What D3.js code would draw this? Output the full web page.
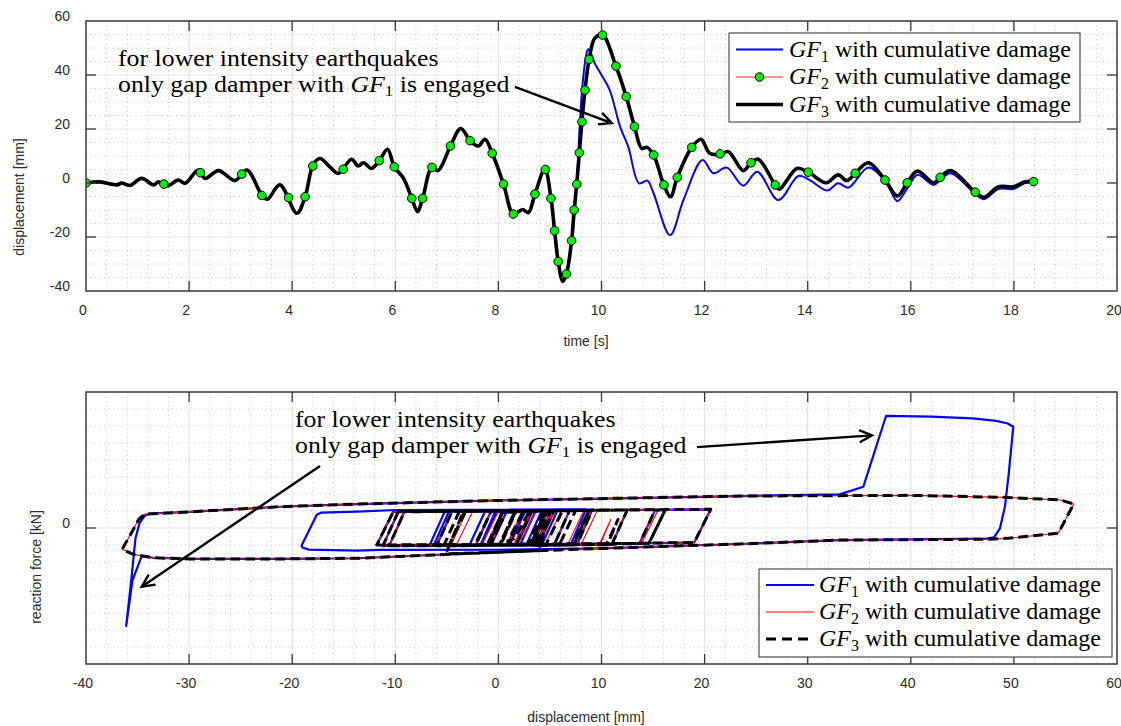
<!DOCTYPE html>
<html>
<head>
<meta charset="utf-8">
<script src="https://cdn.jsdelivr.net/npm/d3@7"></script>
<style>
  body { margin: 0; background: #fff; }
  svg { display: block; }
  .sans { font-family: "Liberation Sans", Arial, Helvetica, sans-serif; }
  .serif { font-family: "Liberation Serif", "Times New Roman", serif; }
</style>
</head>
<body>
<svg id="chart" width="1121" height="726"></svg>
<script>
// ---------------- axis ticks ----------------
const timeTicks = [0, 2, 4, 6, 8, 10, 12, 14, 16, 18, 20];
const dispTicks = [-40, -20, 0, 20, 40, 60];
const hystDispTicks = [-40, -30, -20, -10, 0, 10, 20, 30, 40, 50, 60];
const forceTicks = [0];

const seriesNames = ["GF", "GF", "GF"];
const seriesSubs = ["1", "2", "3"];
const seriesSuffix = " with cumulative damage";
const noteLine1 = "for lower intensity earthquakes";
const noteLine2a = "only gap damper with ";
const noteLine2b = " is engaged";

// ---------------- displacement time histories [t (s), u (mm)] ----------------
const gf3Series = [
  [0,0],[0.27,0.4],[0.6,-0.7],[0.69,0],[0.85,-0.9],[1.08,1.7],[1.31,-0.7],[1.40,0.4],
  [1.58,-1.1],[1.79,1.1],[1.92,-0.1],[2.18,4.8],[2.31,1.7],[2.57,4.6],[2.89,0.9],[3.12,4.8],
  [3.41,-4.4],[3.52,-6],[3.76,-0.7],[4.09,-11.2],[4.25,-5.1],[4.41,7],[4.54,9.1],[4.73,6],
  [4.9,3.6],[5.15,8.8],[5.28,6.3],[5.38,7.5],[5.54,5.4],[5.69,8.3],[5.85,12.5],[5.98,6],
  [6.16,1.7],[6.32,-5.7],[6.43,-10.6],[6.53,-5.7],[6.71,5.8],[6.83,4.6],[7.07,13.7],[7.27,20.2],
  [7.45,15.7],[7.61,13.7],[7.74,16.2],[7.88,11],[8.10,-0.4],[8.29,-11.5],[8.47,-9.8],[8.58,-11],
  [8.71,-4.1],[8.9,5.1],[9.02,-5.7],[9.09,-17.7],[9.16,-29.1],[9.25,-36.5],[9.32,-33.7],[9.42,-21.4],
  [9.47,-10],[9.52,-0.4],[9.57,11.2],[9.62,22.7],[9.68,34.4],[9.76,45.8],[9.87,53.6],[10.02,54.8],
  [10.28,43.3],[10.48,32],[10.64,20.9],[10.78,12.8],[10.88,13.2],[11.01,10.4],[11.21,-0.7],[11.34,-5.1],
  [11.47,2.1],[11.75,13.2],[11.93,16.2],[12.10,11],[12.30,10.6],[12.46,11.6],[12.75,4.6],[12.90,7.5],
  [13.04,8.8],[13.37,-0.7],[13.45,-2.3],[13.79,5.4],[14.01,4],[14.36,0.1],[14.59,3],[14.76,0.9],
  [14.92,3.6],[15.18,7.5],[15.50,1.1],[15.74,-4.8],[15.93,0.1],[16.13,4.4],[16.44,0.1],[16.57,2.1],
  [16.77,4.6],[17.25,-3.4],[17.42,-5.3],[17.70,-1.4],[17.99,-1.4],[18.22,0.5],[18.38,0.5]
];

// GF1 follows GF3 until the first large trough, then departs
const gf1Start = gf3Series.filter(p => p[0] <= 9.25);
const gf1Tail = [
  [9.33,-32.5],[9.43,-20],[9.52,0],[9.58,22],[9.64,38],[9.70,47],[9.74,49.5],[9.80,47.8],
  [9.87,44.3],[10.0,40],[10.16,34.4],[10.36,20.9],[10.52,13.4],[10.73,-0.1],[10.89,0.9],[11.01,-3.8],
  [11.33,-19.3],[11.59,-6.3],[11.96,8.5],[12.17,3.6],[12.43,5.7],[12.75,-1],[13.02,4.2],[13.43,-6.3],
  [13.82,2.6],[14.04,1.1],[14.38,-2.8],[14.59,-0.1],[14.79,-1.7],[15.18,5.7],[15.53,-0.1],[15.74,-6.7],
  [15.95,-1.4],[16.13,3],[16.44,-0.7],[16.57,1],[16.77,3.6],[17.25,-4],[17.42,-6],[17.70,-2.2],
  [17.99,-2.2],[18.22,0],[18.38,0.1]
];
const gf1Series = gf1Start.concat(gf1Tail);

// GF2 coincides with GF3 in the time history; markers placed along it
const gf2Series = gf3Series;
const gf2Markers = [
  [0,0],[1.51,-0.4],[2.22,3.8],[3.02,3.3],[3.41,-4.6],[3.93,-5.4],[4.25,-5.1],[4.40,6.3],
  [4.99,5.1],[5.69,8.3],[5.98,6],[6.32,-5.7],[6.53,-5.7],[6.71,5.8],[7.07,13.7],[7.45,15.7],
  [7.88,11],[8.10,-0.4],[8.29,-11.5],[8.71,-4.1],[8.91,5.0],[9.02,-5.7],[9.09,-17.7],[9.16,-29.1],
  [9.32,-33.7],[9.42,-21.4],[9.47,-10],[9.52,-0.4],[9.57,11.2],[9.62,22.7],[9.68,34.4],[9.76,45.8],
  [10.02,54.8],[10.28,43.3],[10.48,32],[10.64,20.9],[11.01,10.4],[11.21,-0.7],[11.47,2.1],[11.75,13.2],
  [12.30,10.8],[12.90,7.5],[13.37,-0.7],[14.01,4],[14.92,3.6],[15.50,1.1],[15.93,0.1],[16.57,2.1],
  [17.25,-3.4],[18.38,0.5]
];

// ---------------- hysteresis paths [u (mm), F (kN)] ----------------
const gf3Hyst = [
  [0,0],[0.4,0.5],[-0.7,-0.9],[0.3,0.9],[1.7,0.95],[0.2,-1.0],[-1.1,-1.0],[0.4,0.95],[4.8,1.0],
  [3.3,-1.0],[1.7,-1.0],[3.2,0.98],[4.6,1.0],[3.1,-1.0],[0.9,-1.0],[2.4,0.98],[4.8,1.0],[3.3,-1.0],
  [-6.0,-1.05],[-4.5,0.97],[-0.7,1.0],[-2.2,-1.0],[-11.2,-1.05],[-9.7,0.98],[9.1,1.05],[7.6,-1.0],
  [3.6,-1.02],[5.1,1.0],[8.8,1.05],[7.3,-1.0],[5.4,-1.0],[6.9,1.02],[12.5,1.06],[11.0,-0.98],
  [-10.6,-1.05],[-9.1,0.98],[20.6,1.1],[19.0,-0.85],[13.7,-0.9],[15.2,1.05],[16.2,1.08],[14.6,-0.9],
  [-11.8,-1.0],[-10.2,0.95],[5.1,1.02],[3.9,-1.33],[0,-1.42],[-13.7,-1.78],[-21.2,-1.82],[-29.9,-1.82],
  [-33.5,-1.75],[-35.4,-1.55],[-36.5,-1.25],[-35.6,-0.3],[-34.9,0.5],[-34.3,0.82],[-30,0.95],[-21.2,1.25],
  [-13.7,1.41],[0,1.62],[23.4,1.88],[40,1.92],[49.3,1.8],[54.5,1.65],[55.8,1.41],[54.3,-0.31],
  [49.3,-0.61],[47.35,-0.66],[33.1,-0.71],[23.4,-0.94],[10,-1.2],[0,-1.42],[-5.1,-1.52],[-3.4,0.97],
  [16.2,1.08],[14.6,-0.9],[10.6,-0.95],[11.6,0.5],[10.5,-0.95],[4.6,-1.0],[6.2,1.0],[8.8,1.05],
  [7.2,-1.0],[-2.3,-1.02],[-0.7,0.98],[5.4,1.03],[3.8,-1.0],[0.1,-1.0],[1.6,0.98],[3.0,1.0],
  [1.6,-0.6],[0.9,-0.8],[2.4,0.98],[7.5,1.04],[5.9,-1.0],[-4.8,-1.03],[-3.2,0.97],[4.4,1.02],
  [2.8,-1.0],[0.1,-1.0],[1.6,0.98],[4.6,1.02],[3.0,-1.0],[-5.3,-1.03],[-3.8,0.97],[0.5,1.0]
];

// GF2 follows the same outer loop as GF3; its late small cycles reverse at slightly different points
const gf2HystLate = [
  [15.5,1.07],[13.9,-0.9],[9.9,-0.95],[10.9,0.5],[9.8,-0.95],[3.9,-1.0],[5.5,1.0],[9.6,1.05],
  [8.0,-1.0],[-1.6,-1.02],[0.0,0.98],[6.1,1.03],[4.5,-1.0],[0.8,-1.0],[2.3,0.98],[3.7,1.0],
  [2.3,-0.6],[1.6,-0.8],[3.1,0.98],[8.3,1.04],[6.7,-1.0],[-4.1,-1.03],[-2.5,0.97],[5.2,1.02],
  [3.6,-1.0],[0.8,-1.0],[2.3,0.98],[5.4,1.02],[3.8,-1.0],[-4.6,-1.03],[-3.1,0.97],[1.2,1.0]
];
const gf2Hyst = gf3Hyst.slice(0, 74).concat(gf2HystLate);

// GF1 shares the early cycles, then the gap damper engages at both extremes
const gf1HystStart = gf3Hyst.slice(0, 45);
const gf1HystTail = [
  [3.9,-1.33],[0,-1.42],[-13.7,-1.78],[-21.2,-1.82],[-29.9,-1.82],[-33.5,-1.75],[-34.6,-1.65],
  [-35.5,-3.1],[-36.1,-5.76],[-35.6,-3.0],[-35.2,-0.6],[-34.8,0.3],[-34.3,0.72],[-33.8,0.85],[-30,0.95],
  [-21.2,1.25],[-13.7,1.41],[0,1.62],[23.4,1.88],[33.1,1.98],[35.4,2.43],[37.6,6.59],[42,6.55],
  [46,6.45],[48.3,6.3],[49.4,6.15],[49.94,5.96],[49.5,3.2],[49.13,1.25],[48.65,-0.02],[48.07,-0.55],
  [47.35,-0.62],[33.1,-0.71],[23.4,-0.94],[10,-1.2],[0,-1.28],[-11.5,-1.29],[-13.7,-1.33],[-18.4,-1.27],
  [-19.0,-1.15],[-19.1,-1.05],[-17.6,0.8],[-17.2,0.9],[-13.7,0.96],[-9.9,1.06],[8.5,1.1],[7.0,-1.0],
  [3.6,-1.0],[5.1,0.97],[5.7,1.0],[4.2,-1.0],[-1.0,-1.0],[0.5,0.97],[4.2,1.0],[2.7,-1.0],
  [-6.3,-1.05],[-4.8,0.97],[2.6,1.0],[1.1,-1.0],[-2.8,-1.0],[-1.3,0.97],[-0.1,1.0],[-1.6,-0.9],
  [-1.7,-0.95],[-0.3,0.97],[5.7,1.0],[4.2,-1.0],[-6.7,-1.05],[-5.2,0.97],[3.3,1.0],[1.8,-1.0],
  [-0.7,-1.0],[0.8,0.97],[3.6,1.0],[2.1,-1.0],[-6.0,-1.03],[-4.5,0.97],[0.1,1.0]
];
const gf1Hyst = gf1HystStart.concat(gf1HystTail);

// annotation anchors in data units
const topNoteAt = [0.62, 43.5];
const topArrow = [[8.32, 35.6], [10.2, 22.2]];
const botNoteAt = [-19.73, 5.95];
const botArrows = [
  [[19.26, 4.76], [36.24, 5.45]],
  [[-17.3, 3.65], [-34.6, -3.45]]
];

// ---------------- drawing ----------------
const svg = d3.select("#chart");
const AX = "#2b2b2b";
const GRID = "#e3e3e3";
const MINOR = "#c4c4c4";

function drawFrame(g, x, y, xTicks, yTicks, xMinor, yMinor, clipId) {
  const [x0, x1] = x.range();
  const [y0, y1] = [y.range()[1], y.range()[0]]; // top, bottom
  g.append("rect").attr("x", x0).attr("y", y0).attr("width", x1 - x0).attr("height", y1 - y0)
    .attr("fill", "#fff");
  // minor grid
  g.append("g").selectAll("line").data(xMinor).join("line")
    .attr("x1", d => x(d)).attr("x2", d => x(d)).attr("y1", y0).attr("y2", y1)
    .attr("stroke", MINOR).attr("stroke-width", 1).attr("stroke-dasharray", "1,3.5");
  g.append("g").selectAll("line").data(yMinor).join("line")
    .attr("y1", d => y(d)).attr("y2", d => y(d)).attr("x1", x0).attr("x2", x1)
    .attr("stroke", MINOR).attr("stroke-width", 1).attr("stroke-dasharray", "1,3.5");
  // major grid
  const xIn = xTicks.filter(d => x(d) > x0 + 1 && x(d) < x1 - 1);
  const yIn = yTicks.filter(d => y(d) > y0 + 1 && y(d) < y1 - 1);
  g.append("g").selectAll("line").data(xIn).join("line")
    .attr("x1", d => x(d)).attr("x2", d => x(d)).attr("y1", y0).attr("y2", y1)
    .attr("stroke", GRID).attr("stroke-width", 1.2);
  g.append("g").selectAll("line").data(yIn).join("line")
    .attr("y1", d => y(d)).attr("y2", d => y(d)).attr("x1", x0).attr("x2", x1)
    .attr("stroke", GRID).attr("stroke-width", 1.2);
  g.append("clipPath").attr("id", clipId).append("rect")
    .attr("x", x0).attr("y", y0).attr("width", x1 - x0).attr("height", y1 - y0);
}

function drawAxes(g, x, y, xTicks, yTicks) {
  const [x0, x1] = x.range();
  const [y0, y1] = [y.range()[1], y.range()[0]];
  const tl = 10;
  const xIn = xTicks.filter(d => x(d) > x0 + 1 && x(d) < x1 - 1);
  const yIn = yTicks.filter(d => y(d) > y0 + 1 && y(d) < y1 - 1);
  const tk = g.append("g").attr("stroke", "#3a3a3a").attr("stroke-width", 1.3);
  xIn.forEach(d => {
    tk.append("line").attr("x1", x(d)).attr("x2", x(d)).attr("y1", y1).attr("y2", y1 - tl);
    tk.append("line").attr("x1", x(d)).attr("x2", x(d)).attr("y1", y0).attr("y2", y0 + tl);
  });
  yIn.forEach(d => {
    tk.append("line").attr("y1", y(d)).attr("y2", y(d)).attr("x1", x0).attr("x2", x0 + tl);
    tk.append("line").attr("y1", y(d)).attr("y2", y(d)).attr("x1", x1).attr("x2", x1 - tl);
  });
  g.append("rect").attr("x", x0).attr("y", y0).attr("width", x1 - x0).attr("height", y1 - y0)
    .attr("fill", "none").attr("stroke", "#3a3a3a").attr("stroke-width", 1.5);
  // tick labels
  g.append("g").selectAll("text").data(xTicks).join("text").attr("class", "sans")
    .attr("x", d => x(d) - 3).attr("y", y1 + 24).attr("text-anchor", "middle")
    .attr("font-size", 14).attr("fill", AX).text(d => d);
  g.append("g").selectAll("text").data(yTicks).join("text").attr("class", "sans")
    .attr("x", x0 - 16).attr("y", d => y(d)).attr("dy", "0.35em").attr("transform", "translate(0,-5)")
    .attr("text-anchor", "end").attr("font-size", 14).attr("fill", AX).text(d => d);
}

function arrow(g, p, q) {
  const [ax, ay] = p, [bx, by] = q;
  const a = Math.atan2(by - ay, bx - ax);
  const L = 14, s = 0.45;
  g.append("line").attr("x1", ax).attr("y1", ay).attr("x2", bx).attr("y2", by)
    .attr("stroke", "#000").attr("stroke-width", 2.4);
  g.append("path")
    .attr("d", `M${bx - L * Math.cos(a - s)},${by - L * Math.sin(a - s)}L${bx},${by}L${bx - L * Math.cos(a + s)},${by - L * Math.sin(a + s)}`)
    .attr("fill", "none").attr("stroke", "#000").attr("stroke-width", 2.4).attr("stroke-linejoin", "miter");
}

// two-line note; each line is its own text block, slightly widened
function note(g, xPix, yPix) {
  const fs = 23.6, sx = 1.095, gap = 26.5;
  const t1 = g.append("text").attr("class", "serif").attr("font-size", fs).attr("fill", "#000")
    .attr("transform", `translate(${xPix},${yPix}) scale(${sx},1)`);
  t1.text(noteLine1);
  const t2 = g.append("text").attr("class", "serif").attr("font-size", fs).attr("fill", "#000")
    .attr("transform", `translate(${xPix},${yPix + gap}) scale(${sx},1)`);
  t2.append("tspan").text(noteLine2a);
  t2.append("tspan").attr("font-style", "italic").text("GF");
  t2.append("tspan").attr("font-size", 15.5).attr("dy", 4).text("1");
  t2.append("tspan").attr("dy", -4).text(noteLine2b);
}

function legendLabel(g, xPix, yPix, i) {
  const t = g.append("text").attr("class", "serif").attr("font-size", 24).attr("fill", "#000")
    .attr("x", xPix).attr("y", yPix);
  t.append("tspan").attr("font-style", "italic").text(seriesNames[i]);
  t.append("tspan").attr("font-size", 16).attr("dy", 5).text(seriesSubs[i]);
  t.append("tspan").attr("dy", -5).text(seriesSuffix);
}

// ======== top panel: displacement vs time ========
const xT = d3.scaleLinear().domain([0, 20]).range([86, 1117]);
const yT = d3.scaleLinear().domain([-40, 60]).range([291, 21]);
const gTop = svg.append("g");
drawFrame(gTop, xT, yT, timeTicks, dispTicks,
  d3.range(0, 20.001, 0.4).filter(v => Math.abs(v / 2 - Math.round(v / 2)) > 1e-6),
  d3.range(-40, 60.001, 5).filter(v => v % 20 !== 0), "clipTop");

const lineT = d3.line().x(d => xT(d[0])).y(d => yT(d[1])).curve(d3.curveCatmullRom.alpha(0.5));
const plotTop = gTop.append("g").attr("clip-path", "url(#clipTop)");
plotTop.append("path").datum(gf1Series).attr("d", lineT)
  .attr("fill", "none").attr("stroke", "#0000ff").attr("stroke-width", 2);
plotTop.append("path").datum(gf2Series).attr("d", lineT)
  .attr("fill", "none").attr("stroke", "#ff6f6f").attr("stroke-width", 1);
plotTop.append("path").datum(gf3Series).attr("d", lineT)
  .attr("fill", "none").attr("stroke", "#000").attr("stroke-width", 3.6)
  .attr("stroke-linejoin", "round");
plotTop.append("g").selectAll("circle").data(gf2Markers).join("circle")
  .attr("cx", d => xT(d[0])).attr("cy", d => yT(d[1])).attr("r", 4.3)
  .attr("fill", "#00ee00").attr("stroke", "#000").attr("stroke-width", 1);

drawAxes(gTop, xT, yT, timeTicks, dispTicks);
gTop.append("text").attr("class", "sans").attr("x", 586).attr("y", 346).attr("text-anchor", "middle")
  .attr("font-size", 14).attr("fill", AX).text("time [s]");
gTop.append("text").attr("class", "sans").attr("transform", "translate(24,197) rotate(-90)")
  .attr("text-anchor", "middle").attr("font-size", 14).attr("fill", AX).text("displacement [mm]");

note(gTop, xT(topNoteAt[0]), yT(topNoteAt[1]));
arrow(gTop, [xT(topArrow[0][0]), yT(topArrow[0][1])], [xT(topArrow[1][0]), yT(topArrow[1][1])]);

// top legend
const lgT = gTop.append("g");
lgT.append("rect").attr("x", 729).attr("y", 33).attr("width", 351).attr("height", 89)
  .attr("fill", "#fff").attr("stroke", AX).attr("stroke-width", 1);
const lgRowsT = [49.5, 77, 104.5];
lgT.append("line").attr("x1", 736).attr("x2", 783).attr("y1", lgRowsT[0]).attr("y2", lgRowsT[0])
  .attr("stroke", "#0000ff").attr("stroke-width", 2);
lgT.append("line").attr("x1", 736).attr("x2", 783).attr("y1", lgRowsT[1]).attr("y2", lgRowsT[1])
  .attr("stroke", "#ff6f6f").attr("stroke-width", 1.5);
lgT.append("circle").attr("cx", 759.5).attr("cy", lgRowsT[1]).attr("r", 4.3)
  .attr("fill", "#00ee00").attr("stroke", "#000").attr("stroke-width", 1);
lgT.append("line").attr("x1", 736).attr("x2", 783).attr("y1", lgRowsT[2]).attr("y2", lgRowsT[2])
  .attr("stroke", "#000").attr("stroke-width", 3.6);
lgRowsT.forEach((ry, i) => legendLabel(lgT, 789, ry + 7, i));

// ======== bottom panel: reaction force vs displacement ========
const xB = d3.scaleLinear().domain([-40, 60]).range([86, 1117]);
const yB = d3.scaleLinear().domain([-8, 8]).range([664, 392]);
const gBot = svg.append("g");
drawFrame(gBot, xB, yB, hystDispTicks, forceTicks,
  d3.range(-40, 60.001, 2).filter(v => v % 10 !== 0),
  d3.range(-8, 8.001, 1).filter(v => v !== 0), "clipBot");

const lineB = d3.line().x(d => xB(d[0])).y(d => yB(d[1]));
const plotBot = gBot.append("g").attr("clip-path", "url(#clipBot)");
plotBot.append("path").datum(gf1Hyst).attr("d", lineB)
  .attr("fill", "none").attr("stroke", "#0000ff").attr("stroke-width", 2.2)
  .attr("stroke-linejoin", "round");
plotBot.append("path").datum(gf2Hyst).attr("d", lineB)
  .attr("fill", "none").attr("stroke", "#ff0000").attr("stroke-width", 1.1)
  .attr("stroke-linejoin", "round");
plotBot.append("path").datum(gf3Hyst).attr("d", lineB)
  .attr("fill", "none").attr("stroke", "#000").attr("stroke-width", 3)
  .attr("stroke-dasharray", "10,5").attr("stroke-linejoin", "round");

drawAxes(gBot, xB, yB, hystDispTicks, forceTicks);
gBot.append("text").attr("class", "sans").attr("x", 586).attr("y", 722).attr("text-anchor", "middle")
  .attr("font-size", 14).attr("fill", AX).text("displacement [mm]");
gBot.append("text").attr("class", "sans").attr("transform", "translate(41,567) rotate(-90)")
  .attr("text-anchor", "middle").attr("font-size", 14).attr("fill", AX).text("reaction force [kN]");

note(gBot, xB(botNoteAt[0]), yB(botNoteAt[1]));
botArrows.forEach(a => arrow(gBot, [xB(a[0][0]), yB(a[0][1])], [xB(a[1][0]), yB(a[1][1])]));

// bottom legend
const lgB = gBot.append("g");
lgB.append("rect").attr("x", 759).attr("y", 569).attr("width", 353).attr("height", 88)
  .attr("fill", "#fff").attr("stroke", AX).attr("stroke-width", 1);
const lgRowsB = [585, 612, 639];
lgB.append("line").attr("x1", 766).attr("x2", 814).attr("y1", lgRowsB[0]).attr("y2", lgRowsB[0])
  .attr("stroke", "#0000ff").attr("stroke-width", 2.2);
lgB.append("line").attr("x1", 766).attr("x2", 814).attr("y1", lgRowsB[1]).attr("y2", lgRowsB[1])
  .attr("stroke", "#ff0000").attr("stroke-width", 1);
lgB.append("line").attr("x1", 766).attr("x2", 814).attr("y1", lgRowsB[2]).attr("y2", lgRowsB[2])
  .attr("stroke", "#000").attr("stroke-width", 3).attr("stroke-dasharray", "10,6");
lgRowsB.forEach((ry, i) => legendLabel(lgB, 819, ry + 7, i));
</script>
</body>
</html>
